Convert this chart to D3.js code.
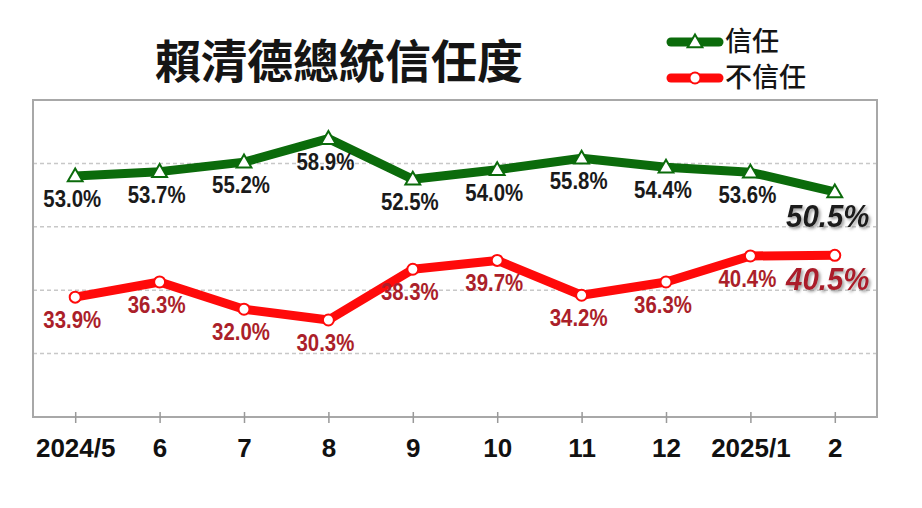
<!DOCTYPE html>
<html>
<head>
<meta charset="utf-8">
<script src="https://cdn.jsdelivr.net/npm/d3@7"></script>
<style>
  body { margin: 0; background: #fff; }
  svg { display: block; }
</style>
</head>
<body>
<div id="chart"></div>
<script>
// data
const months = ["2024/5", "6", "7", "8", "9", "10", "11", "12", "2025/1", "2"];
const trust = [53.0, 53.7, 55.2, 58.9, 52.5, 54.0, 55.8, 54.4, 53.6, 50.5];
const distrust = [33.9, 36.3, 32.0, 30.3, 38.3, 39.7, 34.2, 36.3, 40.4, 40.5];
const yTicks = [25, 35, 45, 55];
const seriesNames = ["信任", "不信任"];

var w = 922, h = 508;
var box = {left: 33, right: 877, top: 100, bottom: 417};

var svg = d3.select("#chart")
  .append("svg")
  .attr("width", w)
  .attr("height", h)
  .style("background-color", "white");

var defs = svg.append("defs");
defs.append("filter")
  .attr("id", "shadow")
  .attr("x", "-20%").attr("y", "-20%")
  .attr("width", "140%").attr("height", "140%")
  .append("feDropShadow")
  .attr("dx", 2).attr("dy", 2)
  .attr("stdDeviation", 1.5)
  .attr("flood-color", "#888")
  .attr("flood-opacity", 0.8);

var x = d3.scalePoint()
  .domain(months)
  .range([box.left, box.right])
  .padding(0.5);

var y = d3.scaleLinear()
  .domain([15, 65])
  .range([box.bottom, box.top]);

// grid lines
svg.append("g")
  .selectAll("line")
  .data(yTicks)
  .enter()
  .append("line")
  .attr("x1", box.left).attr("x2", box.right)
  .attr("y1", d => y(d)).attr("y2", d => y(d))
  .attr("stroke", "#c8c8c8")
  .attr("stroke-width", 1.5)
  .attr("stroke-dasharray", "4,3");

// frame
svg.append("rect")
  .attr("x", box.left).attr("y", box.top)
  .attr("width", box.right - box.left)
  .attr("height", box.bottom - box.top)
  .attr("fill", "none")
  .attr("stroke", "#a8a8a8")
  .attr("stroke-width", 2);

// x axis
var xAxis = svg.append("g")
  .attr("transform", "translate(0," + (box.bottom - 5) + ")")
  .call(d3.axisBottom(x).tickSize(11));
xAxis.select(".domain").remove();
xAxis.selectAll(".tick line").attr("stroke", "#999").attr("stroke-width", 1.5);
xAxis.selectAll(".tick text")
  .attr("y", 45)
  .attr("dy", 0)
  .attr("fill", "#111")
  .style("font-family", "'Liberation Sans', Arial, sans-serif")
  .style("font-weight", "bold")
  .style("font-size", "26px");

var triangle = d3.symbol().type(d3.symbolTriangle).size(95);

function drawSeries(values, lineColor, labelColor, marker) {
  var g = svg.append("g");
  g.append("path")
    .datum(values)
    .attr("fill", "none")
    .attr("stroke", lineColor)
    .attr("stroke-width", 9)
    .attr("stroke-linejoin", "round")
    .attr("d", d3.line()
      .x((d, i) => x(months[i]))
      .y(d => y(d)));

  if (marker === "triangle") {
    g.selectAll("path.mk")
      .data(values)
      .enter()
      .append("path")
      .attr("class", "mk")
      .attr("d", triangle)
      .attr("transform", (d, i) => "translate(" + x(months[i]) + "," + (y(d) + 1) + ")")
      .attr("fill", "white")
      .attr("stroke", lineColor)
      .attr("stroke-width", 2);
  } else {
    g.selectAll("circle")
      .data(values)
      .enter()
      .append("circle")
      .attr("cx", (d, i) => x(months[i]))
      .attr("cy", d => y(d))
      .attr("r", 5.5)
      .attr("fill", "white")
      .attr("stroke", lineColor)
      .attr("stroke-width", 2);
  }

  var last = values.length - 1;
  g.selectAll("text")
    .data(values)
    .enter()
    .append("text")
    .attr("transform", function (d, i) {
      if (i === last) return "translate(" + (x(months[i]) - 7) + "," + (y(d) + 35) + ") scale(0.95,1)";
      return "translate(" + (x(months[i]) - 3) + "," + (y(d) + 31) + ") scale(0.85,1)";
    })
    .attr("text-anchor", "middle")
    .attr("fill", labelColor)
    .attr("filter", (d, i) => i === last ? "url(#shadow)" : null)
    .style("font-family", "'Liberation Sans', Arial, sans-serif")
    .style("font-weight", "bold")
    .style("font-style", (d, i) => i === last ? "italic" : "normal")
    .style("font-size", (d, i) => i === last ? "31px" : "24px")
    .text(d => d.toFixed(1) + "%");
}

drawSeries(trust, "#0b6b0b", "#1a1a1a", "triangle");
drawSeries(distrust, "#ff0a0a", "#ab1f2a", "circle");

// title
svg.append("text")
  .attr("x", 339)
  .attr("y", 78)
  .attr("text-anchor", "middle")
  .attr("fill", "#151515")
  .style("font-family", "'Noto Sans CJK TC', sans-serif")
  .style("font-weight", "bold")
  .style("font-size", "46px")
  .text("賴清德總統信任度");

// legend
var legend = [
  {name: seriesNames[0], color: "#0b6b0b", marker: "triangle", y: 42},
  {name: seriesNames[1], color: "#ff0a0a", marker: "circle", y: 78}
];
var lg = svg.append("g").selectAll("g")
  .data(legend)
  .enter()
  .append("g");
lg.append("line")
  .attr("x1", 671).attr("x2", 719)
  .attr("y1", d => d.y).attr("y2", d => d.y)
  .attr("stroke", d => d.color)
  .attr("stroke-width", 9)
  .attr("stroke-linecap", "round");
lg.filter(d => d.marker === "triangle")
  .append("path")
  .attr("d", triangle)
  .attr("transform", d => "translate(695," + (d.y + 1) + ")")
  .attr("fill", "white")
  .attr("stroke", d => d.color)
  .attr("stroke-width", 2);
lg.filter(d => d.marker === "circle")
  .append("circle")
  .attr("cx", 695).attr("cy", d => d.y)
  .attr("r", 5.5)
  .attr("fill", "white")
  .attr("stroke", d => d.color)
  .attr("stroke-width", 2);
lg.append("text")
  .attr("x", 725)
  .attr("y", d => d.y + 9)
  .attr("fill", "#151515")
  .style("font-family", "'Noto Sans CJK TC', sans-serif")
  .style("font-weight", "500")
  .style("font-size", "27px")
  .text(d => d.name);
</script>
</body>
</html>
